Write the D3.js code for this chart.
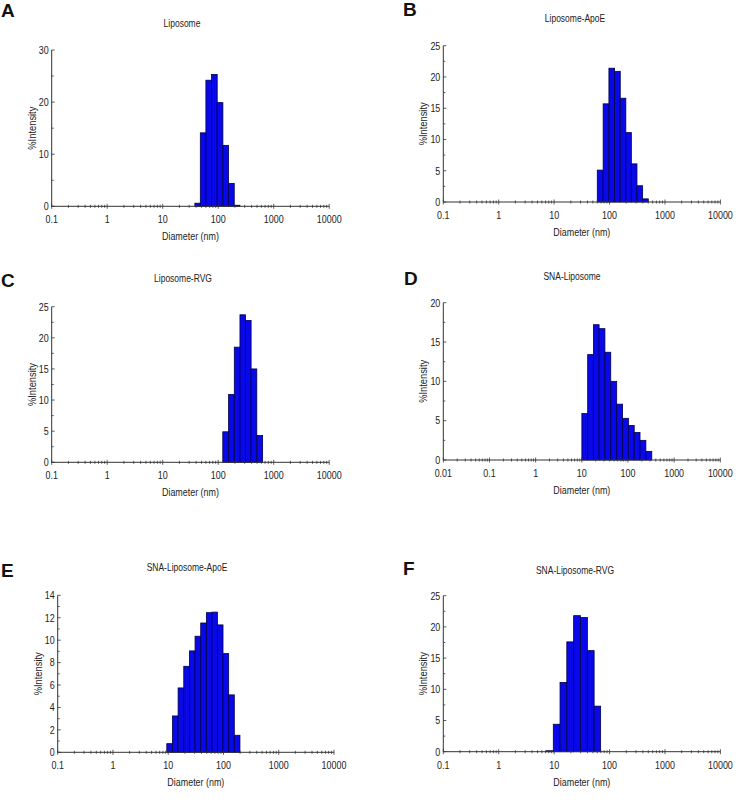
<!DOCTYPE html>
<html>
<head>
<meta charset="utf-8">
<script src="https://cdn.jsdelivr.net/npm/d3@7"></script>
<style>
  html, body { margin: 0; padding: 0; background: #fff; }
  svg { display: block; }
</style>
</head>
<body>
<svg id="chart" width="753" height="810"></svg>
<script>
// ---------- DATA (bin centre diameters in nm, % intensity) ----------
const xTickLabels   = ["0.1", "1", "10", "100", "1000", "10000"];
const xTickLabelsD  = ["0.01", "0.1", "1", "10", "100", "1000", "10000"];

const aSizes     = [42.5, 53.3, 67.6, 85.3, 107.9, 136.8, 173.0, 218.8];
const aIntensity = [0.6, 14.1, 24.2, 25.3, 19.9, 11.7, 4.4, 0.2];

const bSizes     = [67.8, 86.5, 109.6, 138.7, 175.4, 220.3, 277.3, 351.6, 444.6];
const bIntensity = [5.1, 15.7, 21.4, 20.9, 16.6, 11.1, 6.1, 2.6, 0.5];

const cSizes     = [136.5, 173.8, 218.8, 278.0, 349.0, 439.5, 559.8];
const cIntensity = [4.9, 10.9, 18.5, 23.7, 22.8, 15.0, 4.3];

const dSizes     = [11.6, 15.5, 20.5, 27.4, 36.6, 49.1, 66.2, 88.5, 118.0, 157.8, 210.9, 283.1];
const dIntensity = [5.9, 13.4, 17.2, 16.7, 13.7, 10.0, 7.1, 5.3, 4.4, 3.5, 2.5, 1.1];

const eSizes     = [10.6, 13.4, 17.0, 21.5, 27.2, 34.4, 43.6, 55.1, 69.2, 87.1, 110.4, 139.6, 176.6];
const eIntensity = [0.77, 3.24, 5.74, 7.67, 9.04, 10.35, 11.53, 12.45, 12.5, 11.36, 8.8, 5.12, 1.52];

const fSizes     = [8.4, 11.1, 14.7, 19.5, 25.9, 34.4, 46.0, 60.3];
const fIntensity = [0.15, 4.4, 11.1, 17.6, 21.8, 21.5, 16.2, 7.3];

const titles  = ["Liposome", "Liposome-ApoE", "Liposome-RVG", "SNA-Liposome", "SNA-Liposome-ApoE", "SNA-Liposome-RVG"];
const letters = ["A", "B", "C", "D", "E", "F"];
const yMaxes  = [30, 25, 25, 20, 14, 25];
const yMajors = [10, 5, 5, 5, 2, 5];

// ---------- LAYOUT ----------
const layout = [
  { x0: 51.7,  x1: 329.2, yTop: 50.0,  yBot: 206.3, lx: 1,   ly: 17,  tx: 182, ty: 27 },
  { x0: 443.3, x1: 720.4, yTop: 45.7,  yBot: 202.0, lx: 403, ly: 16,  tx: 575, ty: 22 },
  { x0: 51.7,  x1: 329.2, yTop: 306.7, yBot: 462.3, lx: 1,   ly: 287, tx: 183, ty: 282 },
  { x0: 443.3, x1: 720.3, yTop: 302.7, yBot: 460.0, lx: 404, ly: 285, tx: 572, ty: 280 },
  { x0: 57.7,  x1: 334.0, yTop: 595.3, yBot: 752.3, lx: 1,   ly: 577, tx: 187, ty: 571 },
  { x0: 443.3, x1: 720.4, yTop: 595.7, yBot: 751.7, lx: 403, ly: 575, tx: 575, ty: 574 }
];

const panels = [
  { sizes: aSizes, vals: aIntensity, xLabels: xTickLabels },
  { sizes: bSizes, vals: bIntensity, xLabels: xTickLabels },
  { sizes: cSizes, vals: cIntensity, xLabels: xTickLabels },
  { sizes: dSizes, vals: dIntensity, xLabels: xTickLabelsD },
  { sizes: eSizes, vals: eIntensity, xLabels: xTickLabels },
  { sizes: fSizes, vals: fIntensity, xLabels: xTickLabels }
];

const svg = d3.select("#chart");
const axisColor = "#333";
const textColor = "#222";
const barFill = "#0808e8";
const barStroke = "#00004a";
const NARROW = 0.85;

// Narrow (condensed) text helper: Arial-metric font squeezed horizontally
function narrowText(parent, x, y, txt, anchor, rotate, size) {
  const rot = rotate ? ` rotate(${rotate})` : "";
  return parent.append("text")
    .attr("transform", `translate(${x},${y})${rot} scale(${NARROW},1)`)
    .attr("font-family", "'Liberation Sans', Arial, sans-serif")
    .attr("font-size", size || 10.5)
    .attr("fill", textColor)
    .attr("text-anchor", anchor || "middle")
    .text(txt);
}

panels.forEach((p, i) => {
  const L = layout[i];
  const xDomainMin = +p.xLabels[0];
  const xDomainMax = +p.xLabels[p.xLabels.length - 1];
  const x = d3.scaleLog().domain([xDomainMin, xDomainMax]).range([L.x0, L.x1]);
  const y = d3.scaleLinear().domain([0, yMaxes[i]]).range([L.yBot, L.yTop]);
  const g = svg.append("g");

  // Panel letter
  svg.append("text").attr("x", L.lx).attr("y", L.ly)
    .attr("font-family", "Arial, 'Liberation Sans', sans-serif")
    .attr("font-weight", "bold").attr("font-size", 19).attr("fill", "#111")
    .text(letters[i]);

  // Title
  narrowText(g, L.tx, L.ty, titles[i], "middle", 0, 10);

  // Bars: edges at geometric midpoints between neighbouring bin centres
  const logs = p.sizes.map(Math.log10);
  const edges = logs.map((l, k) => {
    const prev = k > 0 ? (logs[k - 1] + l) / 2 : l - (logs[1] - logs[0]) / 2;
    const next = k < logs.length - 1 ? (logs[k + 1] + l) / 2 : l + (l - logs[k - 1]) / 2;
    return [Math.pow(10, prev), Math.pow(10, next)];
  });
  g.selectAll("rect.bar").data(p.vals).join("rect")
    .attr("class", "bar")
    .attr("x", (d, k) => x(edges[k][0]))
    .attr("width", (d, k) => x(edges[k][1]) - x(edges[k][0]))
    .attr("y", d => y(d))
    .attr("height", d => y(0) - y(d))
    .attr("fill", barFill)
    .attr("stroke", barStroke)
    .attr("stroke-width", 0.8);

  // X axis line & ticks
  const axG = g.append("g");
  axG.append("line").attr("x1", L.x0).attr("x2", L.x1).attr("y1", L.yBot).attr("y2", L.yBot)
    .attr("stroke", axisColor).attr("stroke-width", 1);
  const decadesStart = Math.round(Math.log10(xDomainMin));
  const decadesEnd = Math.round(Math.log10(xDomainMax));
  const minorVals = [];
  for (let e = decadesStart; e < decadesEnd; e++) {
    for (let m = 2; m <= 9; m++) minorVals.push(m * Math.pow(10, e));
  }
  axG.selectAll("line.minx").data(minorVals).join("line")
    .attr("x1", d => x(d)).attr("x2", d => x(d))
    .attr("y1", L.yBot - 1.5).attr("y2", L.yBot + 1.5)
    .attr("stroke", axisColor).attr("stroke-width", 0.8);
  const majorVals = p.xLabels.map(Number);
  axG.selectAll("line.majx").data(majorVals).join("line")
    .attr("x1", d => x(d)).attr("x2", d => x(d))
    .attr("y1", L.yBot - 2.5).attr("y2", L.yBot + 2.5)
    .attr("stroke", axisColor).attr("stroke-width", 0.8);
  p.xLabels.forEach(lbl => narrowText(axG, x(+lbl), L.yBot + 17, lbl, "middle"));
  narrowText(g, (L.x0 + L.x1) / 2, L.yBot + 34, "Diameter (nm)", "middle");

  // Y axis
  g.append("line").attr("x1", L.x0).attr("x2", L.x0).attr("y1", L.yTop).attr("y2", L.yBot)
    .attr("stroke", axisColor).attr("stroke-width", 1);
  const yMajorTicks = d3.range(0, yMaxes[i] + 0.001, yMajors[i]);
  const yMinorTicks = d3.range(yMajors[i] / 2, yMaxes[i], yMajors[i]);
  g.selectAll("line.ymaj").data(yMajorTicks).join("line")
    .attr("x1", L.x0).attr("x2", L.x0 + 3)
    .attr("y1", d => y(d)).attr("y2", d => y(d))
    .attr("stroke", axisColor).attr("stroke-width", 0.8);
  g.selectAll("line.ymin").data(yMinorTicks).join("line")
    .attr("x1", L.x0).attr("x2", L.x0 + 2)
    .attr("y1", d => y(d)).attr("y2", d => y(d))
    .attr("stroke", axisColor).attr("stroke-width", 0.8);
  yMajorTicks.forEach(v => narrowText(g, L.x0 - 3, y(v) + 3.8, String(v), "end"));
  narrowText(g, L.x0 - 16, (L.yTop + L.yBot) / 2, "%Intensity", "middle", -90, 11);
});
</script>
</body>
</html>
